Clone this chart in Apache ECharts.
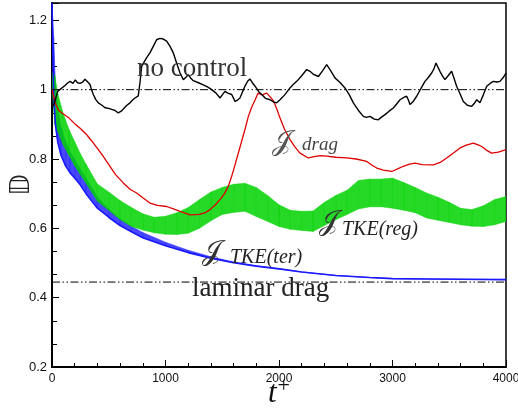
<!DOCTYPE html>
<html><head><meta charset="utf-8">
<script src="https://cdn.jsdelivr.net/npm/echarts@6/dist/echarts.min.js"></script>
<style>html,body{margin:0;padding:0;background:#fff}#c{width:518px;height:412px}</style>
</head><body><div id="c"></div>
<script>
// ---- data ----
const yTicks = [0.2, 0.4, 0.6, 0.8, 1, 1.2];
const xTicks = [0, 1000, 2000, 3000, 4000];
const noControlRef = 1.0;
const laminarRef = 0.445;

const noControl = [[0,0.95],[20,0.96],[50,0.995],[80,1.003],[115,1.012],[140,1.02],[160,1.024],[185,1.018],[205,1.028],[225,1.02],[247,1.018],[270,1.022],[291,1.03],[315,1.022],[335,1.015],[350,0.998],[364,0.986],[385,0.972],[408,0.962],[440,0.955],[467,0.948],[500,0.946],[526,0.943],[555,0.94],[584,0.933],[610,0.938],[628,0.944],[660,0.955],[687,0.962],[710,0.97],[731,0.976],[760,0.982],[775,1.02],[790,1.067],[830,1.09],[863,1.106],[900,1.13],[922,1.144],[950,1.148],[981,1.146],[1010,1.14],[1040,1.125],[1069,1.106],[1100,1.075],[1128,1.048],[1157,1.029],[1180,1.036],[1201,1.043],[1225,1.032],[1245,1.026],[1290,1.02],[1333,1.014],[1370,1.008],[1407,1.0],[1445,0.99],[1480,0.976],[1500,0.985],[1524,0.995],[1550,0.99],[1583,0.986],[1600,0.975],[1612,0.966],[1635,0.97],[1656,0.976],[1680,0.995],[1700,1.01],[1725,1.025],[1744,1.031],[1765,1.02],[1789,1.01],[1820,0.995],[1848,0.986],[1880,0.975],[1921,0.971],[1950,0.965],[1980,0.962],[2009,0.971],[2050,0.985],[2097,1.005],[2125,1.015],[2156,1.024],[2200,1.04],[2244,1.058],[2273,1.053],[2300,1.045],[2347,1.038],[2385,1.055],[2420,1.072],[2455,1.055],[2493,1.034],[2540,1.02],[2581,1.005],[2620,0.985],[2655,0.962],[2700,0.94],[2743,0.923],[2770,0.92],[2802,0.923],[2840,0.915],[2875,0.913],[2900,0.92],[2934,0.928],[2970,0.938],[3007,0.947],[3040,0.96],[3066,0.971],[3100,0.978],[3125,0.981],[3140,0.97],[3154,0.957],[3180,0.965],[3213,0.981],[3250,1.003],[3286,1.024],[3315,1.035],[3345,1.048],[3365,1.06],[3383,1.077],[3400,1.065],[3418,1.053],[3440,1.04],[3462,1.029],[3490,1.04],[3521,1.053],[3540,1.035],[3565,1.01],[3595,0.988],[3624,0.966],[3660,0.955],[3698,0.952],[3720,0.96],[3742,0.971],[3771,0.962],[3800,0.985],[3830,1.01],[3860,1.018],[3889,1.024],[3920,1.022],[3947,1.024],[3975,1.035],[4000,1.048]];

const jDrag = [[0,1.0],[30,0.96],[60,0.94],[100,0.93],[150,0.918],[200,0.902],[250,0.888],[306,0.87],[350,0.852],[408,0.827],[450,0.808],[511,0.779],[560,0.755],[628,0.731],[690,0.712],[746,0.702],[800,0.688],[863,0.673],[930,0.666],[1010,0.663],[1070,0.656],[1128,0.649],[1216,0.639],[1300,0.64],[1350,0.645],[1392,0.654],[1440,0.668],[1480,0.683],[1520,0.7],[1553,0.721],[1583,0.75],[1610,0.78],[1656,0.834],[1700,0.885],[1730,0.923],[1760,0.95],[1790,0.971],[1815,0.99],[1850,0.985],[1892,0.99],[1920,0.98],[1950,0.968],[1980,0.945],[2009,0.918],[2050,0.885],[2097,0.856],[2140,0.835],[2185,0.817],[2258,0.803],[2300,0.806],[2360,0.81],[2420,0.808],[2500,0.805],[2596,0.803],[2680,0.8],[2773,0.793],[2820,0.782],[2861,0.774],[2920,0.768],[2993,0.764],[3050,0.772],[3095,0.779],[3150,0.785],[3198,0.788],[3260,0.784],[3359,0.783],[3420,0.79],[3477,0.803],[3540,0.818],[3595,0.832],[3650,0.84],[3712,0.846],[3760,0.84],[3786,0.836],[3830,0.825],[3874,0.817],[3932,0.82],[4000,0.827]];

// J_TKE(reg): envelope of the fast oscillation
const tkeRegT     = [0,25,50,100,150,200,250,300,400,500,600,700,800,900,1000,1100,1200,1300,1400,1500,1600,1700,1800,1900,2000,2100,2200,2300,2400,2500,2600,2700,2800,2900,3000,3100,3200,3300,3400,3500,3600,3700,3800,3900,4000];
const tkeRegUpper = [1.05,1.04,0.99,0.93,0.885,0.85,0.815,0.785,0.728,0.705,0.68,0.66,0.642,0.632,0.635,0.645,0.66,0.683,0.705,0.718,0.727,0.73,0.718,0.695,0.668,0.652,0.649,0.65,0.675,0.695,0.71,0.738,0.742,0.742,0.745,0.732,0.718,0.702,0.69,0.675,0.658,0.654,0.665,0.683,0.692];
const tkeRegLower = [1.0,0.9,0.88,0.84,0.81,0.78,0.755,0.73,0.678,0.652,0.625,0.605,0.595,0.587,0.583,0.582,0.586,0.6,0.622,0.64,0.646,0.649,0.634,0.62,0.605,0.597,0.594,0.591,0.608,0.625,0.64,0.656,0.662,0.662,0.658,0.652,0.645,0.63,0.623,0.617,0.61,0.606,0.605,0.61,0.62];

// J_TKE(ter): envelope of the decaying oscillation
const tkeTerT     = [0,15,30,50,80,120,160,200,250,300,400,500,600,700,800,1000,1200,1400,1600,1800,2000,2200,2500,2800,3000,3300,3600,4000];
const tkeTerUpper = [1.25,1.15,1.02,0.95,0.89,0.85,0.82,0.80,0.77,0.745,0.69,0.655,0.627,0.606,0.588,0.56,0.537,0.518,0.503,0.492,0.484,0.474,0.464,0.458,0.455,0.454,0.453,0.452];
const tkeTerLower = [1.25,0.98,0.9,0.85,0.81,0.78,0.76,0.745,0.725,0.70,0.658,0.632,0.608,0.59,0.573,0.55,0.53,0.514,0.501,0.491,0.483,0.474,0.464,0.458,0.455,0.454,0.453,0.452];

// ---- build ----
const zip = (t, v) => t.map((x, i) => [x, v[i]]);
// one quad per interval: [t0, lo0, up0, t1, lo1, up1]
const bandSegs = (t, u, l) => t.slice(0, -1).map((x, i) => [x, l[i], u[i], t[i + 1], l[i + 1], u[i + 1]]);
const dashDot = [8, 2.5, 1.5, 2.5, 1.5, 2.5];
const GREEN = '#00d200', BLUE = '#1a1aff', RED = '#dd0000';

function bandSeries(t, u, l, color, opacity, z) {
  return {
    type: 'custom', silent: true, z: z, clip: true,
    data: bandSegs(t, u, l),
    encode: {x: [0, 3], y: [1, 2, 4, 5]},
    renderItem: (params, api) => {
      const a = api.coord([api.value(0), api.value(1)]);
      const b = api.coord([api.value(0), api.value(2)]);
      const c = api.coord([api.value(3), api.value(5)]);
      const d = api.coord([api.value(3), api.value(4)]);
      return {type: 'polygon', shape: {points: [a, b, c, d]},
        style: {fill: color, stroke: color, lineWidth: 0.5, opacity: opacity}};
    }
  };
}

const chart = echarts.init(document.getElementById('c'), null, {renderer: 'canvas'});
const labelFont = '"Liberation Sans", Arial, sans-serif';
const serif = '"Liberation Serif", "Times New Roman", serif';

chart.setOption({
  animation: false,
  backgroundColor: '#fff',
  grid: {left: 52, right: 12, top: 3, bottom: 45, outerBoundsMode: 'none', containLabel: false,
    show: true, borderColor: '#000', borderWidth: 1.5, backgroundColor: 'transparent'},
  xAxis: {
    type: 'value', min: 0, max: 4000, interval: 1000,
    name: '{t|t}{p|+}', nameLocation: 'middle', nameGap: 8, nameMoveOverlap: false,
    nameTextStyle: {rich: {
      t: {fontFamily: serif, fontStyle: 'italic', fontSize: 31, color: '#111'},
      p: {fontFamily: serif, fontSize: 22, color: '#111', padding: [0, 0, 16, 1]}
    }},
    axisLine: {show: true, onZero: false, lineStyle: {color: '#000', width: 2}},
    axisTick: {show: true, inside: true, length: 7, lineStyle: {color: '#000', width: 1}},
    minorTick: {show: true, splitNumber: 5, length: 4, lineStyle: {color: '#000', width: 1}},
    splitLine: {show: false},
    axisLabel: {color: '#111', fontSize: 12, fontFamily: labelFont, margin: 6,
      formatter: v => xTicks.includes(v) ? String(v) : ''}
  },
  yAxis: {
    type: 'value', min: 0.2, max: 1.25, interval: 0.2,
    name: '𝔻', nameLocation: 'middle', nameGap: 17, nameRotate: 90, nameMoveOverlap: false,
    nameTextStyle: {fontFamily: '"DejaVu Sans", "DejaVu Serif", sans-serif', fontSize: 26, color: '#222'},
    axisLine: {show: true, onZero: false, lineStyle: {color: '#000', width: 2}},
    axisTick: {show: true, inside: true, length: 7, lineStyle: {color: '#000', width: 1}},
    minorTick: {show: true, splitNumber: 3, length: 5, lineStyle: {color: '#000', width: 1}},
    splitLine: {show: false},
    axisLabel: {color: '#111', fontSize: 13, fontFamily: labelFont, margin: 5, showMaxLabel: false,
      formatter: v => { const r = +v.toFixed(2); return yTicks.includes(r) ? String(r) : ''; }}
  },
  series: [
    bandSeries(tkeTerT, tkeTerUpper, tkeTerLower, BLUE, 0.8, 2),
    bandSeries(tkeRegT, tkeRegUpper, tkeRegLower, GREEN, 0.85, 3),
    {type: 'line', name: 'terLow', data: zip(tkeTerT, tkeTerLower), symbol: 'none', silent: true,
     lineStyle: {width: 1.6, color: BLUE}, z: 3},
    {type: 'line', name: 'drag', data: jDrag, symbol: 'none', silent: true,
     lineStyle: {width: 1.3, color: RED}, z: 4},
    {type: 'line', name: 'noControl', data: noControl, symbol: 'none', silent: true,
     lineStyle: {width: 1.4, color: '#000'}, z: 5},
    {type: 'line', name: 'refNoControl', data: [[0, noControlRef], [4000, noControlRef]], symbol: 'none', silent: true,
     lineStyle: {width: 1, color: '#000', type: dashDot}, z: 6},
    {type: 'line', name: 'refLaminar', data: [[0, laminarRef], [4000, laminarRef]], symbol: 'none', silent: true,
     lineStyle: {width: 1, color: '#000', type: dashDot}, z: 6}
  ],
  graphic: [
    {type: 'text', x: 137, y: 69, z: 10, style: {text: 'no control', font: '27px ' + serif, fill: '#333', verticalAlign: 'middle'}},
    {type: 'text', x: 192, y: 289, z: 10, style: {text: 'laminar drag', font: '27px ' + serif, fill: '#222', verticalAlign: 'middle'}},
    {type: 'text', x: 272, y: 143, z: 10, style: {text: '𝒥', font: '28px "DejaVu Serif", "DejaVu Sans", serif', fill: '#555', verticalAlign: 'middle'}},
    {type: 'text', x: 302, y: 145, z: 10, style: {text: 'drag', font: 'italic 19px ' + serif, fill: '#444', verticalAlign: 'middle'}},
    {type: 'text', x: 319, y: 223, z: 10, style: {text: '𝒥', font: '28px "DejaVu Serif", "DejaVu Sans", serif', fill: '#333', verticalAlign: 'middle'}},
    {type: 'text', x: 342, y: 230, z: 10, style: {text: 'TKE(reg)', font: 'italic 20px ' + serif, fill: '#222', verticalAlign: 'middle'}},
    {type: 'text', x: 202, y: 253, z: 10, style: {text: '𝒥', font: '28px "DejaVu Serif", "DejaVu Sans", serif', fill: '#333', verticalAlign: 'middle'}},
    {type: 'text', x: 230, y: 258, z: 10, style: {text: 'TKE(ter)', font: 'italic 20px ' + serif, fill: '#222', verticalAlign: 'middle'}}
  ]
});
</script>
</body></html>
